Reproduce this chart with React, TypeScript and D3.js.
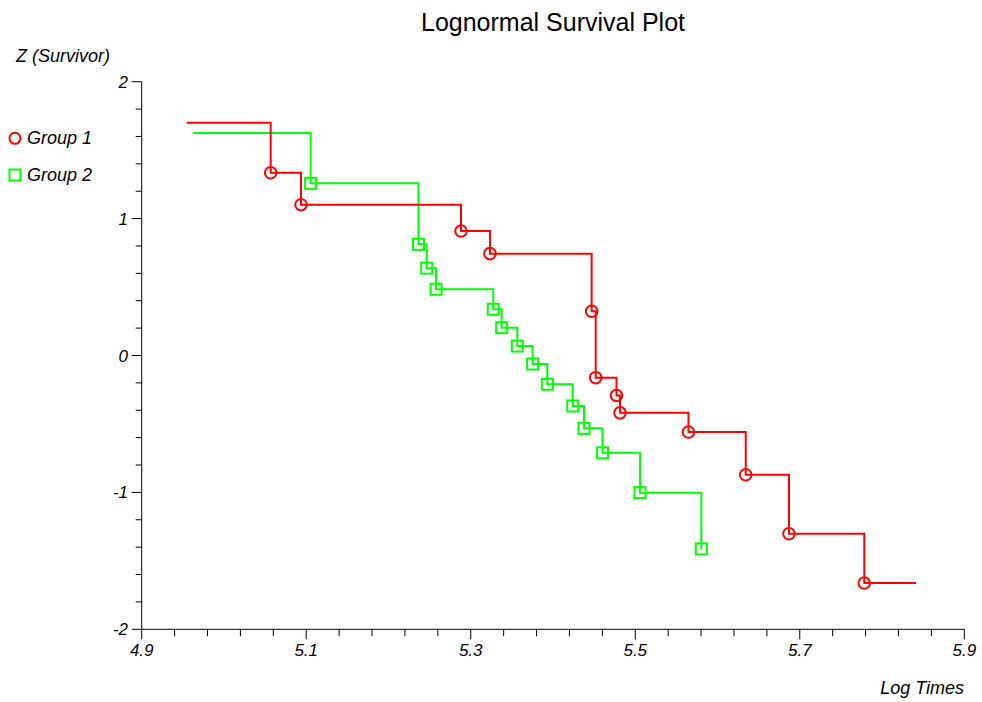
import React from "react";
import * as d3 from "d3";

const group1Start = { x: 4.9547, y: 1.700 };
const group1End = 5.8413;
const group1X = [5.0568, 5.0937, 5.2882, 5.3234, 5.447, 5.4519, 5.4772, 5.4815, 5.5647, 5.6343, 5.6869, 5.7784];
const group1Y = [1.335, 1.1015, 0.909, 0.744, 0.323, -0.162, -0.292, -0.419, -0.559, -0.871, -1.302, -1.662];

const group2Start = { x: 4.9627, y: 1.625 };
const group2X = [5.1054, 5.2365, 5.2465, 5.2578, 5.3274, 5.3376, 5.3566, 5.3753, 5.3931, 5.424, 5.4377, 5.4602, 5.5058, 5.5803];
const group2Y = [1.258, 0.812, 0.638, 0.4836, 0.3375, 0.203, 0.069, -0.062, -0.21, -0.369, -0.532, -0.711, -1.002, -1.413];

const xTicks = [4.9, 5.1, 5.3, 5.5, 5.7, 5.9];
const yTicks = [-2, -1, 0, 1, 2];

const W = 982, H = 702;
const FONT = "'Liberation Sans', Arial, sans-serif";

export default function App() {
  const x = d3.scaleLinear().domain([4.9, 5.9]).range([141.7, 964.3]);
  const y = d3.scaleLinear().domain([-2, 2]).range([629.3, 81.7]);

  const xMinor = d3.range(0, 26).map((i) => 4.9 + i * 0.04).filter((v) => Math.abs(((v - 4.9) / 0.2) - Math.round((v - 4.9) / 0.2)) > 1e-6);
  const yMinor = d3.range(0, 21).map((i) => -2 + i * 0.2).filter((v) => Math.abs(v - Math.round(v)) > 1e-6);

  const stepPath = (start: { x: number; y: number }, xs: number[], ys: number[], end?: number) => {
    const pts: [number, number][] = [[start.x, start.y]];
    xs.forEach((xv, i) => pts.push([xv, ys[i]]));
    if (end !== undefined) pts.push([end, ys[ys.length - 1]]);
    const line = d3.line<[number, number]>().x((d) => x(d[0])).y((d) => y(d[1])).curve(d3.curveStepAfter);
    return line(pts) || "";
  };

  const red = "#ff0000";
  const green = "#00ff00";

  return (
    <svg width={W} height={H} style={{ position: "absolute", left: 0, top: 0, background: "#fff" }} fontFamily={FONT}>
      <rect x={0} y={0} width={W} height={H} fill="#fff" />
      <text x={553} y={31} textAnchor="middle" fontSize={25} fill="#000">Lognormal Survival Plot</text>
      <text x={16} y={62} fontSize={18} fontStyle="italic" fill="#000">Z (Survivor)</text>
      <text x={964} y={694} textAnchor="end" fontSize={18} fontStyle="italic" fill="#000">Log Times</text>

      {/* axes */}
      <line x1={x(4.9)} x2={x(4.9)} y1={y(2)} y2={y(-2)} stroke="#000" strokeWidth={1} />
      <line x1={x(4.9)} x2={x(5.9)} y1={y(-2)} y2={y(-2)} stroke="#000" strokeWidth={1} />
      {yTicks.map((t) => (
        <g key={"yt" + t}>
          <line x1={x(4.9) - 10} x2={x(4.9)} y1={y(t)} y2={y(t)} stroke="#000" />
          <text x={128} y={y(t) + 6} textAnchor="end" fontSize={17} fontStyle="italic">{t}</text>
        </g>
      ))}
      {yMinor.map((t, i) => (
        <line key={"ym" + i} x1={x(4.9) - 6} x2={x(4.9)} y1={y(t)} y2={y(t)} stroke="#000" />
      ))}
      {xTicks.map((t) => (
        <g key={"xt" + t}>
          <line x1={x(t)} x2={x(t)} y1={y(-2)} y2={y(-2) + 10} stroke="#000" />
          <text x={x(t)} y={656} textAnchor="middle" fontSize={17} fontStyle="italic">{t.toFixed(1)}</text>
        </g>
      ))}
      {xMinor.map((t, i) => (
        <line key={"xm" + i} x1={x(t)} x2={x(t)} y1={y(-2)} y2={y(-2) + 7} stroke="#000" />
      ))}

      {/* series */}
      <path d={stepPath(group2Start, group2X, group2Y)} fill="none" stroke={green} strokeWidth={2} />
      <path d={stepPath(group1Start, group1X, group1Y, group1End)} fill="none" stroke={red} strokeWidth={2} />
      {group2X.map((xv, i) => (
        <rect key={"g2" + i} x={x(xv) - 5.5} y={y(group2Y[i]) - 5.5} width={11} height={11} fill="none" stroke={green} strokeWidth={2} />
      ))}
      {group1X.map((xv, i) => (
        <circle key={"g1" + i} cx={x(xv)} cy={y(group1Y[i])} r={5.8} fill="none" stroke={red} strokeWidth={2} />
      ))}

      {/* legend */}
      <circle cx={15} cy={138.3} r={5.5} fill="none" stroke={red} strokeWidth={2} />
      <text x={27} y={143.5} fontSize={18} fontStyle="italic">Group 1</text>
      <rect x={9.5} y={169.5} width={11} height={11} fill="none" stroke={green} strokeWidth={2} />
      <text x={27} y={180.5} fontSize={18} fontStyle="italic">Group 2</text>
    </svg>
  );
}
